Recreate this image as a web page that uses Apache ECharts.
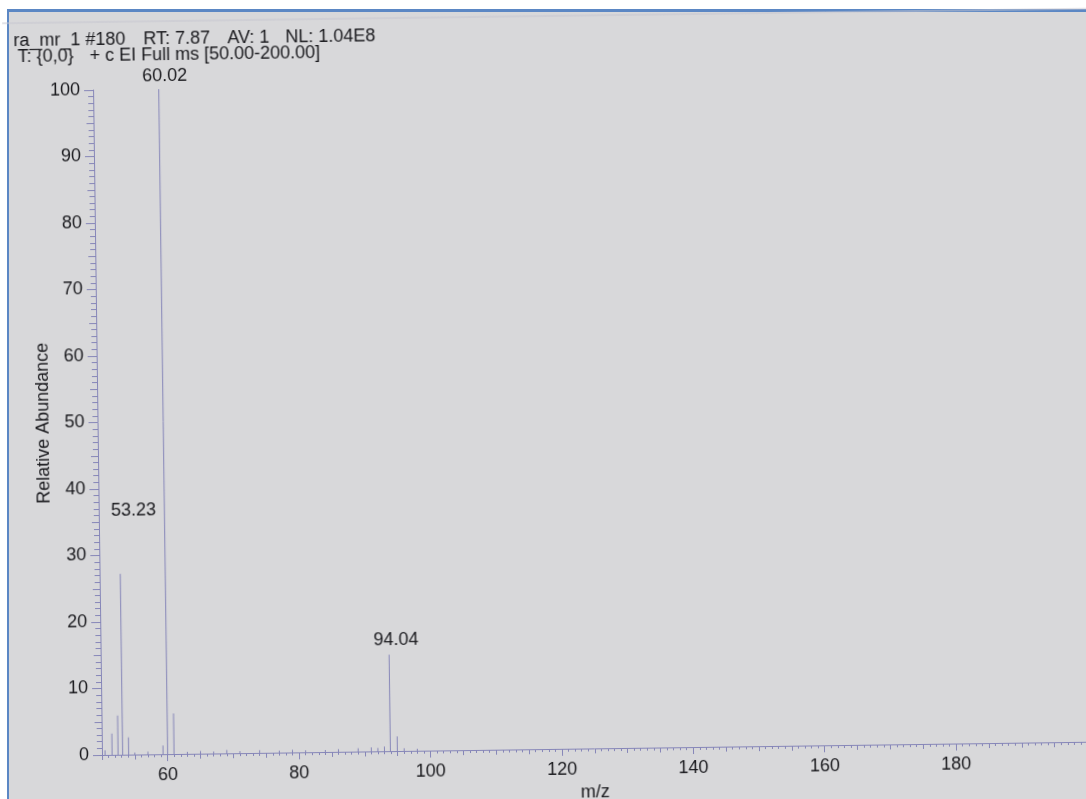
<!DOCTYPE html>
<html>
<head>
<meta charset="utf-8">
<script src="https://cdn.jsdelivr.net/npm/echarts@6/dist/echarts.min.js"></script>
<style>
  html, body { margin: 0; padding: 0; background: #ffffff; width: 1086px; height: 799px; overflow: hidden; }
  #paper { position: absolute; left: 7px; top: 9px; width: 1079px; height: 790px;
           background: #d8d8da; border-left: 2px solid #5b87c4; border-top: 3px solid #5b87c4; box-sizing: border-box; }
  #chart { position: absolute; left: 0; top: 0; width: 1110px; height: 830px;
           transform: rotate(-0.77deg); transform-origin: 102px 755px; }
</style>
</head>
<body>
<div id="paper"></div>
<div id="chart"></div>
<script>
// ---- data ----
const peakMz        = [50.47, 51.54, 52.45, 53.15, 54.06, 55.0, 57.0, 59.3, 60.0, 60.97, 63.0, 65.0, 67.0, 69.0, 71.0, 74.0, 77.0, 79.0, 81.0, 84.0, 86.0, 89.0, 91.0, 92.0, 93.0, 93.9, 94.96, 96.0, 98.0];
const peakAbundance = [0.7,   3.2,   5.9,   27.2,  2.6,   0.3,  0.4,  1.3,  100,  6.1,   0.3,  0.4,  0.3,  0.5,  0.3,  0.4,  0.3,  0.4,  0.3,  0.3,  0.4,  0.5,  0.6,  0.5,  0.7,  14.5, 2.2,   0.4,  0.3];
const labelMz       = [53.15, 60.0, 93.9];
const labelAbund    = [27.2, 100, 14.5];
const labelText     = ['53.23', '60.02', '94.04'];
const xLabelTicks   = [60, 80, 100, 120, 140, 160, 180];
const headerLine1   = ['ra_mr_1 #180', 'RT: 7.87', 'AV: 1', 'NL: 1.04E8'];
const headerLine2   = ['T: {0,0}', '+ c EI Full ms [50.00-200.00]'];

// ---- styling / layout ----
const FONT = 'Liberation Sans, Arial, sans-serif';
const FS = 18;
const INK = '#1a1a1e';
const LINE = '#8686b8';
const labelOffsets = { '53.23': [14, -54], '60.02': [6, -4], '94.04': [7, -6] };
const header1X = [23, 153, 237, 295];
const header2X = [27, 99];

const chart = echarts.init(document.getElementById('chart'), null, { renderer: 'canvas' });

const peaks = peakMz.map((m, i) => [m, peakAbundance[i]]);
const labels = labelMz.map((m, i) => ({
  value: [m, labelAbund[i]],
  label: { formatter: labelText[i], offset: labelOffsets[labelText[i]] }
}));

const graphics = [
  { type: 'line', shape: { x1: 12, y1: 22, x2: 1110, y2: 22 }, style: { stroke: '#c6c6d0', lineWidth: 1 }, silent: true }
];
headerLine1.forEach((t, i) => graphics.push({ type: 'text', x: header1X[i], y: 40,
  style: { text: t, font: FS + 'px ' + FONT, fill: INK, textVerticalAlign: 'middle', verticalAlign: 'middle' } }));
headerLine2.forEach((t, i) => graphics.push({ type: 'text', x: header2X[i], y: 56,
  style: { text: t, font: FS + 'px ' + FONT, fill: INK, textVerticalAlign: 'middle', verticalAlign: 'middle' } }));

const option = {
  animation: false,
  backgroundColor: 'transparent',
  grid: { left: 102, top: 90, height: 665, width: 985.5, containLabel: false, outerBoundsMode: 'none' },
  graphic: graphics,
  xAxis: [
    {
      type: 'value', min: 50, max: 200, interval: 10,
      name: 'm/z', nameLocation: 'middle', nameGap: 29,
      nameTextStyle: { fontFamily: FONT, fontSize: FS, color: INK },
      axisLine: { show: true, lineStyle: { color: LINE, width: 1 } },
      axisTick: { show: true, length: 7, lineStyle: { color: LINE }, customValues: xLabelTicks },
      axisLabel: { show: true, margin: 12, fontFamily: FONT, fontSize: FS, color: INK, customValues: xLabelTicks },
      splitLine: { show: false }
    },
    {
      type: 'value', min: 50, max: 200, interval: 5, position: 'bottom',
      axisLine: { show: false },
      axisTick: { show: true, length: 5, lineStyle: { color: LINE } },
      minorTick: { show: true, splitNumber: 5, length: 3, lineStyle: { color: LINE } },
      axisLabel: { show: false },
      splitLine: { show: false }
    }
  ],
  yAxis: [
    {
      type: 'value', min: 0, max: 100, interval: 10,
      name: 'Relative Abundance', nameLocation: 'middle', nameGap: 45, nameMoveOverlap: false,
      nameTextStyle: { fontFamily: FONT, fontSize: FS, color: INK },
      axisLine: { show: true, lineStyle: { color: LINE, width: 1 } },
      axisTick: { show: true, length: 9, lineStyle: { color: LINE } },
      axisLabel: { show: true, margin: 13, fontFamily: FONT, fontSize: FS, color: INK },
      splitLine: { show: false }
    },
    {
      type: 'value', min: 0, max: 100, interval: 5, position: 'left',
      axisLine: { show: false },
      axisTick: { show: true, length: 7, lineStyle: { color: LINE } },
      minorTick: { show: true, splitNumber: 5, length: 5, lineStyle: { color: LINE } },
      axisLabel: { show: false },
      splitLine: { show: false }
    }
  ],
  series: [
    {
      type: 'custom', xAxisIndex: 0, yAxisIndex: 0, data: peaks, clip: false,
      renderItem: function (params, api) {
        const p0 = api.coord([api.value(0), 0]);
        const p1 = api.coord([api.value(0), api.value(1)]);
        return { type: 'line', shape: { x1: p0[0], y1: p0[1], x2: p1[0], y2: p1[1] },
                 style: { stroke: LINE, lineWidth: 1 } };
      }
    },
    {
      type: 'scatter', xAxisIndex: 0, yAxisIndex: 0, symbolSize: 0, data: labels, silent: true,
      itemStyle: { opacity: 1 },
      label: { show: true, position: 'top', distance: 0, fontFamily: FONT, fontSize: FS, color: INK,
               opacity: 1, textBorderWidth: 0 }
    }
  ]
};
chart.setOption(option);
</script>
</body>
</html>
